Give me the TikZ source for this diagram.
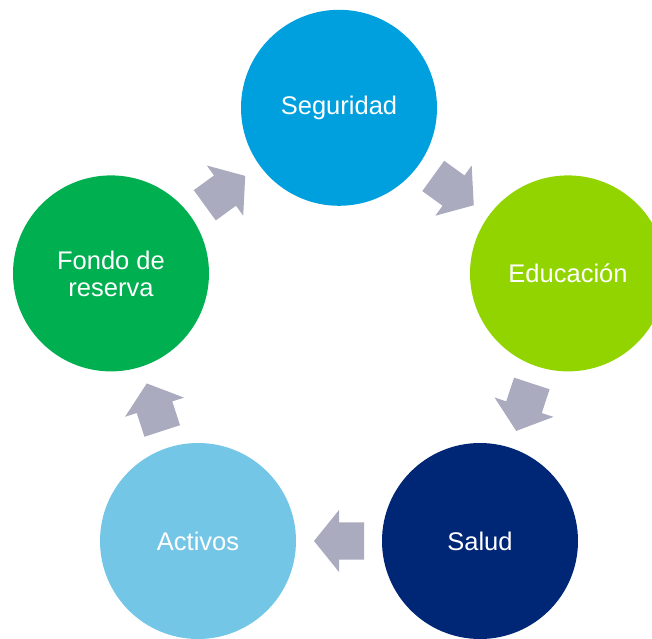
\documentclass[tikz,border=0pt]{standalone}
\usepackage{fontspec}
\setmainfont{Liberation Sans}
\usetikzlibrary{calc}
\definecolor{cSeg}{RGB}{0,160,223}
\definecolor{cEdu}{RGB}{146,212,0}
\definecolor{cSal}{RGB}{0,39,118}
\definecolor{cAct}{RGB}{116,198,231}
\definecolor{cFon}{RGB}{0,175,80}
\definecolor{cArr}{RGB}{171,171,191}
\tikzset{
  bubble/.style={circle, minimum size=196pt, inner sep=0pt, text=white, align=center,
    font=\fontsize{25.5}{27}\selectfont},
  blockarrow/.pic={
    \fill[cArr] (25,0) -- (0,31) -- (0,18.7) -- (-25,18.7) -- (-25,-18.7) -- (0,-18.7) -- (0,-31) -- cycle;
  }
}
\begin{document}
\begin{tikzpicture}[x=1pt,y=1pt]
\useasboundingbox (0,0) rectangle (652,638);
\clip (0,0) rectangle (652,638);
\node[bubble, fill=cSeg] (seg) at (339,530.2) {Seguridad};
\node[bubble, fill=cEdu] (edu) at (568,364.6) {Educación};
\node[bubble, fill=cSal] (sal) at (480,97) {Salud};
\node[bubble, fill=cAct] (act) at (198,97) {Activos};
\node[bubble, fill=cFon] (fon) at (111,364.6) {Fondo de\\reserva};
\foreach \a/\b in {seg/edu, edu/sal, sal/act, act/fon, fon/seg}{
  \path let \p1 = ($(\b)-(\a)$), \n1 = {atan2(\y1,\x1)} in
    ($(\a)!0.5!(\b)$) pic[rotate=\n1] {blockarrow};
}
\end{tikzpicture}
\end{document}
